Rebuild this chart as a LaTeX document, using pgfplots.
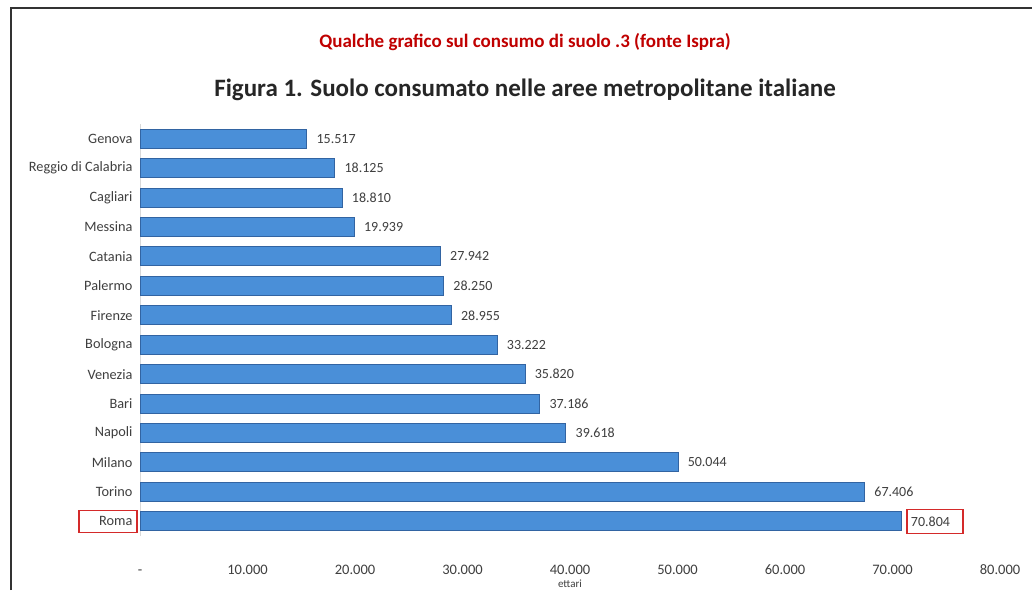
\documentclass[border=0pt]{standalone}
\usepackage{pgfplots}
\pgfplotsset{compat=1.18}
\usepackage{pgfplotstable}
\usepackage{fontspec}
\setmainfont{Carlito}
\definecolor{lblgray}{HTML}{3F3F3F}
\definecolor{titlered}{HTML}{C00000}
\definecolor{barfill}{HTML}{4A8FD8}
\definecolor{baredge}{HTML}{3264A2}
\definecolor{boxred}{HTML}{D42A2A}
\pgfplotstableread{
idx val
0 70804
1 67406
2 50044
3 39618
4 37186
5 35820
6 33222
7 28955
8 28250
9 27942
10 19939
11 18810
12 18125
13 15517
}\datatable
\begin{document}
\begin{tikzpicture}
\path[use as bounding box, fill=white] (0,0) rectangle (1032pt,590pt);
\draw[line width=1.6pt, black!80] (11pt,0) -- (11pt,582pt) -- (1032pt,582pt);
\node[font=\fontsize{19}{22}\selectfont\bfseries, text=titlered] at (525pt,548pt) {Qualche grafico sul consumo di suolo .3 (fonte Ispra)};
\node[font=\fontsize{25}{29}\selectfont\bfseries, text=black!85] at (525pt,500pt) {Figura 1. Suolo consumato nelle aree metropolitane italiane};
\begin{axis}[
  at={(140pt,54pt)}, anchor=south west,
  scale only axis, width=860pt, height=412pt,
  xbar, bar width=19pt,
  xmin=0, xmax=80000,
  ymin=-0.5, ymax=13.5,
  axis lines*=left,
  x axis line style={draw=none},
  y axis line style={draw=black!15},
  major tick length=0pt,
  xtick={0,10000,20000,30000,40000,50000,60000,70000,80000},
  xticklabels={-,10.000,20.000,30.000,40.000,50.000,60.000,70.000,80.000},
  ytick={0,...,13},
  yticklabels={Roma,Torino,Milano,Napoli,Bari,Venezia,Bologna,Firenze,Palermo,Catania,Messina,Cagliari,Reggio di Calabria,Genova},
  yticklabel style={font=\fontsize{14.3}{16}\selectfont, text=lblgray, xshift=-4pt},
  xticklabel style={font=\fontsize{14.5}{16}\selectfont, text=lblgray, anchor=base, text height=1.6ex, text depth=0.3ex, yshift=-38pt},
  xlabel={ettari},
  xlabel style={font=\fontsize{11}{13}\selectfont, text=lblgray, at={(axis description cs:0.5,0)}, anchor=north, inner sep=1pt, yshift=-43pt},
  nodes near coords,
  /pgf/number format/.cd, fixed, precision=0, 1000 sep={.}, assume math mode=true,
  /pgfplots/.cd,
  every node near coord/.append style={font=\fontsize{14}{16}\selectfont, text=lblgray, anchor=west, xshift=6pt},
  clip=false,
]
\addplot[draw=baredge, line width=0.9pt, fill=barfill] table[x=val, y=idx] {\datatable};
\draw[boxred, line width=1.4pt] ([xshift=-61pt,yshift=-11pt]axis cs:0,0) rectangle ([xshift=-3pt,yshift=11pt]axis cs:0,0);
\draw[boxred, line width=1.4pt] ([xshift=6pt,yshift=-12pt]axis cs:70804,0) rectangle ([xshift=62pt,yshift=12pt]axis cs:70804,0);
\end{axis}
\end{tikzpicture}
\end{document}
